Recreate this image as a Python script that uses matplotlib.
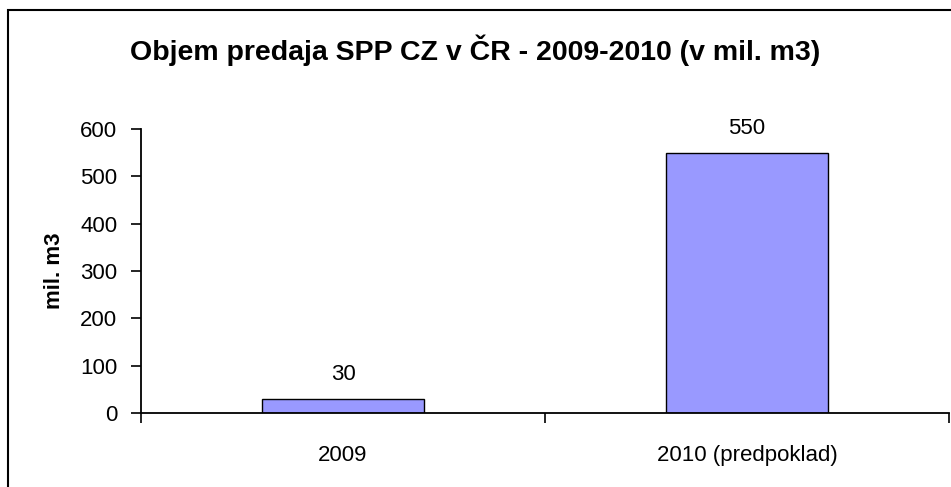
import matplotlib.pyplot as plt
from matplotlib.patches import Rectangle

# data
kategorie = ['2009', '2010 (predpoklad)']
objem = [30, 550]

plt.rcParams['font.family'] = ['Liberation Sans', 'DejaVu Sans']

W, H = 951, 487
fig = plt.figure(figsize=(W / 100, H / 100), dpi=100)
ax = fig.add_axes([141 / W, 1 - 413 / H, (949 - 141) / W, (413 - 129) / H])

# outer chart border (cropped on right and bottom in original)
fig.patches.append(Rectangle((8 / W, -0.1), 1.2, 1 - 10 / H + 0.1,
                             transform=fig.transFigure, fill=False,
                             edgecolor='black', linewidth=1.5))

x = range(len(kategorie))
ax.bar(x, objem, width=0.4, color='#9999FF', edgecolor='black', linewidth=1.0)

for xi, v in zip(x, objem):
    ax.annotate(str(v), (xi, v), xytext=(0, 10), textcoords='offset points',
                ha='center', va='bottom', fontsize=16)

ax.set_xlim(-0.5, len(kategorie) - 0.5)
ax.set_ylim(0, 600)
ax.set_yticks(range(0, 601, 100))

# category boundaries as major ticks, labels on minor ticks
ax.set_xticks([i - 0.5 for i in range(len(kategorie) + 1)])
ax.set_xticklabels([])
ax.set_xticks(list(x), minor=True)
ax.set_xticklabels(kategorie, minor=True, fontsize=16)
ax.tick_params(axis='x', which='minor', length=0, pad=23)
ax.tick_params(axis='x', which='major', length=7, width=1.2, direction='out')
ax.tick_params(axis='y', length=7, width=1.2, direction='out', labelsize=16, pad=10)

for s in ['top', 'right']:
    ax.spines[s].set_visible(False)
for s in ['left', 'bottom']:
    ax.spines[s].set_linewidth(1.3)

ax.set_ylabel('mil. m3', fontsize=16, fontweight='bold', labelpad=11)
fig.text(475 / W, 1 - 60 / H, 'Objem predaja SPP CZ v ČR - 2009-2010 (v mil. m3)',
         ha='center', va='baseline', fontsize=20.5, fontweight='bold')

fig.savefig('out.png', dpi=100)
